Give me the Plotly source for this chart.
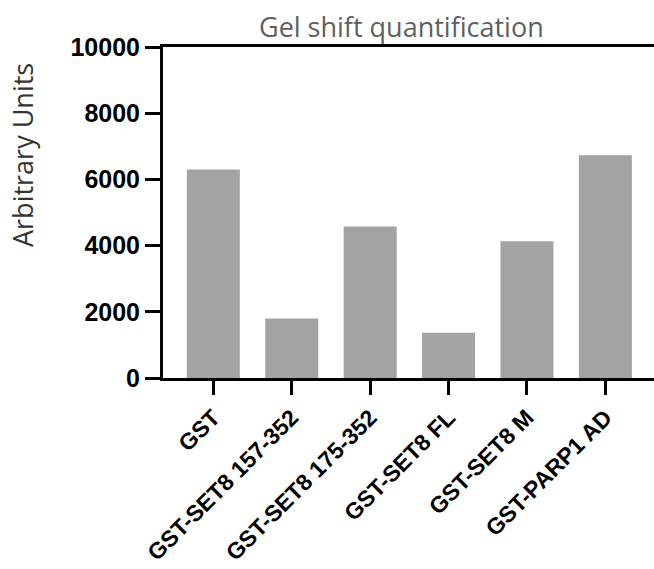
import plotly.graph_objects as go

# Gel shift band intensities per construct
constructs = ["GST", "GST-SET8 157-352", "GST-SET8 175-352",
              "GST-SET8 FL", "GST-SET8 M", "GST-PARP1 AD"]
intensity = [6300, 1800, 4580, 1370, 4130, 6730]

y_ticks = [0, 2000, 4000, 6000, 8000, 10000]

fig = go.Figure(
    go.Bar(
        x=constructs,
        y=intensity,
        marker=dict(color="#a3a3a3", line=dict(width=0)),
    )
)

base_font = dict(family="Liberation Sans, Arial, sans-serif",
                 color="black", weight="bold")

fig.update_layout(
    width=654,
    height=569,
    margin=dict(l=163, r=0, t=47, b=191, autoexpand=False),
    paper_bgcolor="white",
    plot_bgcolor="white",
    bargap=0.324,
    showlegend=False,
    xaxis=dict(
        range=[-0.642, 5.62], automargin=False,
        showline=True, linecolor="black", linewidth=3, mirror=True,
        ticks="outside", ticklen=14, tickwidth=3, tickcolor="black",
        tickangle=-45, tickfont=dict(base_font, size=23),
        showgrid=False, zeroline=False,
    ),
    yaxis=dict(
        range=[0, 10000], automargin=False,
        tickvals=y_ticks,
        ticktext=[str(v) for v in y_ticks],
        showline=True, linecolor="black", linewidth=3,
        ticks="outside", ticklen=15, tickwidth=3, tickcolor="black",
        tickfont=dict(base_font, size=25), showgrid=False, zeroline=False,
    ),
    annotations=[
        dict(text="Gel shift quantification", xref="paper", yref="paper",
             x=(401 - 163) / 491, y=1, yshift=21, showarrow=False,
             xanchor="center", yanchor="middle",
             font=dict(family="Open Sans", size=27, color="#5f5f5f")),
        dict(text="Arbitrary Units", xref="paper", yref="paper",
             x=-141 / 491, y=(378 - 155) / 331, showarrow=False,
             textangle=-90, xanchor="center", yanchor="middle",
             font=dict(family="Open Sans", size=27, color="#333333")),
    ],
)

fig.write_html("out.html")
